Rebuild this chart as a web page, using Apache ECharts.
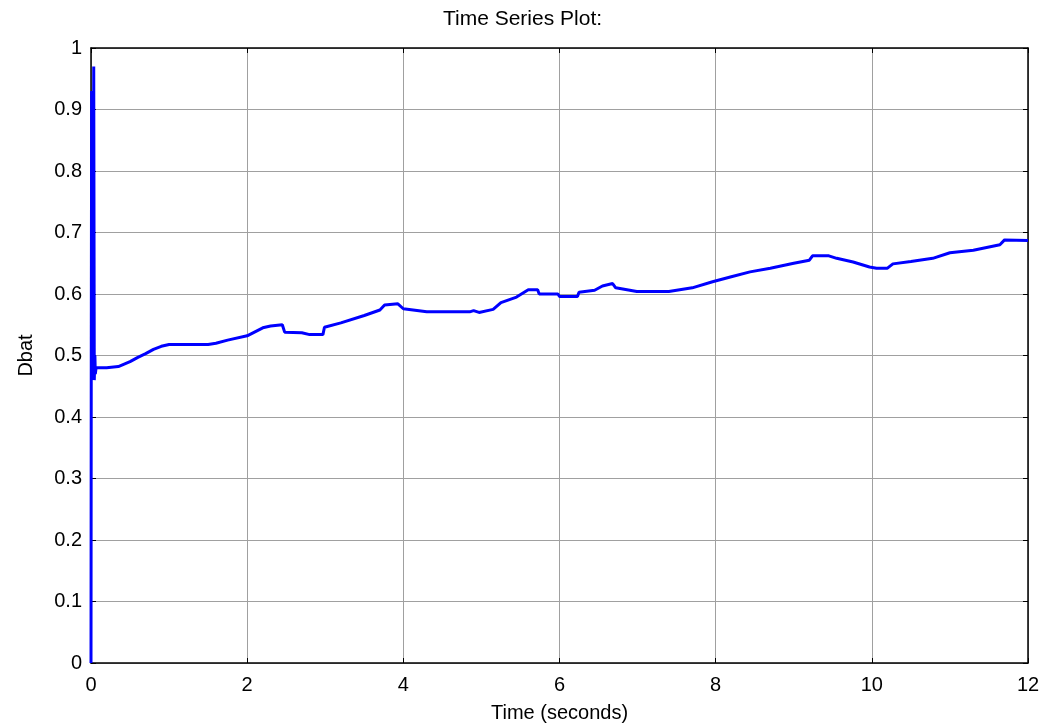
<!DOCTYPE html>
<html>
<head>
<meta charset="utf-8">
<script src="https://cdn.jsdelivr.net/npm/echarts@6/dist/echarts.min.js"></script>
<style>html,body{margin:0;padding:0;background:#fff;}#c{width:1045px;height:728px;}</style>
</head>
<body>
<div id="c"></div>
<script>
const titleText = 'Time Series Plot:';
const xLabel = 'Time (seconds)';
const yLabel = 'Dbat';
const timeValues = [0,0.003,0.008,0.013,0.02,0.027,0.035,0.042,0.05,0.055,0.065,0.2,0.35,0.5,0.6,0.7,0.8,0.9,1.0,1.2,1.5,1.6,1.75,2.0,2.2,2.3,2.45,2.48,2.7,2.8,2.97,2.99,3.2,3.5,3.7,3.76,3.93,4.0,4.3,4.85,4.9,4.97,5.15,5.25,5.45,5.6,5.72,5.74,5.98,6.0,6.23,6.25,6.45,6.55,6.68,6.72,6.99,7.4,7.7,7.96,8.2,8.44,8.7,9.0,9.2,9.24,9.45,9.55,9.76,9.97,10.06,10.2,10.27,10.5,10.78,11.0,11.3,11.64,11.7,12.0];
const dbatValues = [0,0.45,0.93,0.46,0.90,0.47,0.97,0.46,0.50,0.47,0.48,0.48,0.482,0.49,0.497,0.503,0.51,0.515,0.518,0.518,0.518,0.52,0.525,0.532,0.545,0.548,0.55,0.538,0.537,0.534,0.534,0.546,0.553,0.565,0.574,0.582,0.584,0.576,0.571,0.571,0.573,0.570,0.575,0.586,0.595,0.607,0.607,0.600,0.600,0.596,0.596,0.603,0.606,0.613,0.617,0.61,0.604,0.604,0.61,0.62,0.628,0.636,0.642,0.65,0.655,0.662,0.662,0.658,0.652,0.644,0.642,0.642,0.649,0.653,0.658,0.667,0.671,0.68,0.688,0.687];
const xMin = 0, xMax = 12, xStep = 2;
const yMin = 0, yMax = 1, yStep = 0.1;

const font = 'Liberation Sans, Arial, sans-serif';
const data = timeValues.map((t, i) => [t, dbatValues[i]]);
const chart = echarts.init(document.getElementById('c'), null, {renderer: 'canvas'});
const axLine = {show: true, onZero: false, lineStyle: {color: '#000', width: 1.5}};
const tick = {show: true, inside: true, length: 5, lineStyle: {color: '#000', width: 1}};
chart.setOption({
  animation: false,
  backgroundColor: '#fff',
  title: {text: titleText, left: 'center', top: 4, textStyle: {fontFamily: font, fontSize: 21, fontWeight: 'normal', color: '#000'}},
  grid: {left: 91, right: 17, top: 48, bottom: 65, containLabel: false},
  xAxis: [
    {type: 'value', min: xMin, max: xMax, interval: xStep, position: 'bottom',
     name: xLabel, nameLocation: 'middle', nameGap: 40,
     nameTextStyle: {fontFamily: font, fontSize: 20, color: '#000'},
     axisLine: axLine, axisTick: tick,
     axisLabel: {margin: 12, fontFamily: font, fontSize: 20, color: '#000'},
     splitLine: {show: true, lineStyle: {color: '#a0a0a0', width: 1}}},
    {type: 'value', min: xMin, max: xMax, interval: xStep, position: 'top',
     axisLine: axLine, axisTick: tick, axisLabel: {show: false}, splitLine: {show: false}}
  ],
  yAxis: [
    {type: 'value', min: yMin, max: yMax, interval: yStep, position: 'left',
     name: yLabel, nameLocation: 'middle', nameGap: 55, nameRotate: 90,
     nameTextStyle: {fontFamily: font, fontSize: 20, color: '#000'},
     axisLine: axLine, axisTick: tick,
     axisLabel: {margin: 9, fontFamily: font, fontSize: 20, color: '#000'},
     splitLine: {show: true, lineStyle: {color: '#a0a0a0', width: 1}}},
    {type: 'value', min: yMin, max: yMax, interval: yStep, position: 'right',
     axisLine: axLine, axisTick: tick, axisLabel: {show: false}, splitLine: {show: false}}
  ],
  series: [{
    type: 'line', xAxisIndex: 0, yAxisIndex: 0, data: data,
    showSymbol: false, symbol: 'none',
    lineStyle: {color: '#0000ff', width: 3}
  }]
});
</script>
</body>
</html>
